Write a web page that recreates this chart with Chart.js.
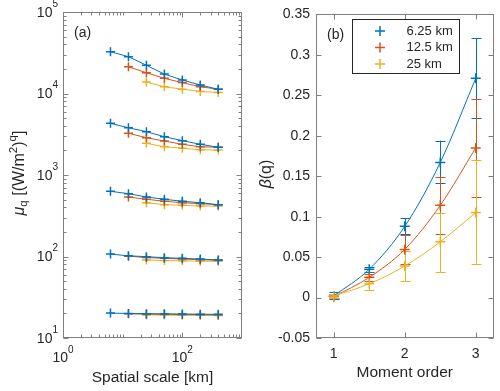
<!DOCTYPE html>
<html>
<head>
<meta charset="utf-8">
<title>Moments and scaling exponents</title>
<script src="https://cdn.jsdelivr.net/npm/chart.js@4.4.1/dist/chart.umd.min.js"></script>
<style>
  html, body { margin: 0; padding: 0; background: #fff; }
  #wrap { position: relative; width: 500px; height: 391px; }
  #wrap canvas { position: absolute; top: 0; }
</style>
</head>
<body>
<div id="wrap">
  <canvas id="chartA" width="250" height="391" style="left:0"></canvas>
  <canvas id="chartB" width="250" height="391" style="left:250px"></canvas>
</div>
<script>
// Data
// =====================================================

// Spatial scales [km] (x of panel a)
const scales = [6.25, 12.5, 25, 50, 100, 200, 400];

const seriesLabels = ['6.25 km', '12.5 km', '25 km'];
const seriesColors = ['#0072BD', '#D95319', '#EDB120'];

// mu_q, one row per moment order (q = 1, 1.5, 2, 2.5, 3)
const mu625 = [
  [20.2, 20.0, 19.9, 19.8, 19.7, 19.6, 19.5],
  [107, 102, 99.5, 96.7, 95, 93, 90.6],
  [631, 590, 537, 504, 476, 457, 432],
  [4300, 3800, 3400, 2950, 2640, 2380, 2190],
  [32600, 28300, 22200, 17300, 14650, 12700, 11270]
];
// starts at 12.5 km
const mu125 = [
  [19.8, 19.6, 19.5, 19.4, 19.3, 19.2],
  [101, 97, 95, 93, 91.5, 90],
  [537, 504, 476, 457, 445, 432],
  [3250, 2870, 2610, 2380, 2220, 2190],
  [21300, 18000, 15350, 13600, 12100, 11270]
];
// starts at 25 km
const mu25 = [
  [19.2, 19.1, 19.0, 19.0, 18.9],
  [90.6, 89, 88.5, 87.5, 87.5],
  [457, 432, 424, 416, 416],
  [2450, 2220, 2130, 2040, 2020],
  [13800, 12100, 11300, 10600, 10300]
];

// Panel b: scaling exponent beta(q) with error range
const orders = [1, 1.5, 2, 2.5, 3];
const beta625   = [0.002, 0.035, 0.088, 0.167, 0.271];
const beta625Lo = [-0.002, 0.032, 0.078, 0.141, 0.222];
const beta625Hi = [0.007, 0.038, 0.098, 0.194, 0.321];
const beta125   = [0.001, 0.025, 0.0595, 0.114, 0.185];
const beta125Lo = [-0.001, 0.021, 0.042, 0.078, 0.124];
const beta125Hi = [0.004, 0.029, 0.077, 0.149, 0.245];
const beta25    = [0.002, 0.017, 0.039, 0.069, 0.105];
const beta25Lo  = [-0.001, 0.0095, 0.020, 0.031, 0.042];
const beta25Hi  = [0.005, 0.025, 0.058, 0.105, 0.170];

// Tick values
const scaleTicks = [1, 100];
const muTicks = [10, 100, 1000, 10000, 100000];
const orderTicks = [1, 2, 3];
const betaTicks = [-0.05, 0, 0.05, 0.1, 0.15, 0.2, 0.25, 0.3, 0.35];

// Styling
// =====================================================
const FONT = '"Liberation Sans", Arial, Helvetica, sans-serif';
const textColor = '#262626';
const frameColor = '#808080';

function font(size, italic) {
  return (italic ? 'italic ' : '') + size + 'px ' + FONT;
}

// minor tick values 2..9 x 10^k inside (min, max)
function logMinors(min, max) {
  const out = [];
  for (let k = Math.floor(Math.log10(min)); k <= Math.ceil(Math.log10(max)); k++) {
    for (let m = 2; m <= 9; m++) {
      const v = m * Math.pow(10, k);
      if (v > min && v < max) out.push(v);
    }
  }
  return out;
}

// draw text made of pieces (sub/superscripts), centred on (cx, cy)
function drawRich(ctx, pieces, cx, cy, rotate) {
  ctx.save();
  ctx.translate(cx, cy);
  if (rotate) ctx.rotate(-Math.PI / 2);
  let total = 0;
  pieces.forEach(p => {
    ctx.font = font(p.size, p.italic);
    p.w = ctx.measureText(p.t).width;
    total += p.w;
  });
  let x = -total / 2;
  ctx.textBaseline = 'middle';
  ctx.textAlign = 'left';
  ctx.fillStyle = textColor;
  pieces.forEach(p => {
    ctx.font = font(p.size, p.italic);
    ctx.fillText(p.t, x, p.dy || 0);
    x += p.w;
  });
  ctx.restore();
}

// Box around the plot with inward ticks on all four sides
const framePlugin = {
  id: 'frame',
  afterDraw(chart, args, opts) {
    const { ctx, chartArea: a } = chart;
    const xs = chart.scales.x, ys = chart.scales.y;
    const L = Math.round(a.left) + 0.5, R = Math.round(a.right) - 0.5;
    const T = Math.round(a.top) + 0.5, B = Math.round(a.bottom) - 0.5;
    ctx.save();
    ctx.strokeStyle = frameColor;
    ctx.lineWidth = 1;
    ctx.strokeRect(L, T, R - L, B - T);

    ctx.beginPath();
    const xTicks = (vals, len) => vals.forEach(v => {
      const px = Math.round(xs.getPixelForValue(v)) + 0.5;
      ctx.moveTo(px, B); ctx.lineTo(px, B - len);
      ctx.moveTo(px, T); ctx.lineTo(px, T + len);
    });
    const yTicks = (vals, len) => vals.forEach(v => {
      const py = Math.round(ys.getPixelForValue(v)) + 0.5;
      ctx.moveTo(L, py); ctx.lineTo(L + len, py);
      ctx.moveTo(R, py); ctx.lineTo(R - len, py);
    });
    xTicks(opts.xMajor || [], 5);
    xTicks(opts.xMinor || [], 3);
    yTicks(opts.yMajor || [], 5);
    yTicks(opts.yMinor || [], 3);
    ctx.stroke();
    ctx.restore();
  }
};

// Panel a: tick labels as powers of ten, titles
const labelsA = {
  id: 'labelsA',
  afterDraw(chart) {
    const { ctx, chartArea: a } = chart;
    const xs = chart.scales.x, ys = chart.scales.y;
    ctx.save();
    ctx.fillStyle = textColor;
    ctx.textBaseline = 'middle';

    scaleTicks.forEach(v => {
      const px = xs.getPixelForValue(v);
      const exp = String(Math.round(Math.log10(v)));
      ctx.font = font(14); const w10 = ctx.measureText('10').width;
      ctx.font = font(10); const we = ctx.measureText(exp).width;
      const x0 = px - (w10 + we) / 2;
      ctx.textAlign = 'left';
      ctx.font = font(14); ctx.fillText('10', x0, a.bottom + 20);
      ctx.font = font(10); ctx.fillText(exp, x0 + w10, a.bottom + 12);
    });

    muTicks.forEach(v => {
      const py = ys.getPixelForValue(v);
      const exp = String(Math.round(Math.log10(v)));
      ctx.font = font(10); const we = ctx.measureText(exp).width;
      ctx.textAlign = 'right';
      ctx.fillText(exp, a.left - 5, py - 8);
      ctx.font = font(14);
      ctx.fillText('10', a.left - 5 - we, py + 1);
    });

    ctx.textAlign = 'left';
    ctx.font = font(14);
    ctx.fillText('(a)', a.left + 11, a.top + 21);
    ctx.restore();

    drawRich(ctx, [{ t: 'Spatial scale [km]', size: 15.5 }],
      (a.left + a.right) / 2, 378, false);
    drawRich(ctx, [
      { t: 'μ', size: 16, italic: true },
      { t: 'q', size: 11.5, dy: 4 },
      { t: ' [(W/m', size: 16 },
      { t: '2', size: 11.5, dy: -6 },
      { t: ')', size: 16 },
      { t: 'q', size: 11.5, dy: -7 },
      { t: ']', size: 16 }
    ], 20, 173, true);
  }
};

// Panel b: error bars
const errorBars = {
  id: 'errorBars',
  beforeDatasetsDraw(chart) {
    const { ctx } = chart;
    const xs = chart.scales.x, ys = chart.scales.y;
    const ranges = [[beta625Lo, beta625Hi], [beta125Lo, beta125Hi], [beta25Lo, beta25Hi]];
    ctx.save();
    ctx.lineWidth = 1;
    ranges.forEach((r, s) => {
      ctx.strokeStyle = seriesColors[s];
      ctx.beginPath();
      orders.forEach((q, i) => {
        const px = Math.round(xs.getPixelForValue(q)) + 0.5;
        const lo = ys.getPixelForValue(r[0][i]);
        const hi = ys.getPixelForValue(r[1][i]);
        ctx.moveTo(px, lo); ctx.lineTo(px, hi);
        ctx.moveTo(px - 5, Math.round(lo) + 0.5); ctx.lineTo(px + 5, Math.round(lo) + 0.5);
        ctx.moveTo(px - 5, Math.round(hi) + 0.5); ctx.lineTo(px + 5, Math.round(hi) + 0.5);
      });
      ctx.stroke();
    });
    ctx.restore();
  }
};

// Panel b: legend, titles
const labelsB = {
  id: 'labelsB',
  afterDraw(chart) {
    const { ctx, chartArea: a } = chart;
    ctx.save();
    const bw = 107, bh = 54;
    const bx = Math.round(a.left + 36) + 0.5, by = Math.round(a.top + 5) + 0.5;
    ctx.fillStyle = '#fff';
    ctx.fillRect(bx, by, bw, bh);
    ctx.strokeStyle = '#262626';
    ctx.lineWidth = 1;
    ctx.strokeRect(bx, by, bw, bh);

    ctx.font = font(13);
    ctx.textBaseline = 'middle';
    ctx.textAlign = 'left';
    seriesLabels.forEach((label, i) => {
      const cy = by + 11.5 + i * 16.5;
      const cx = bx + 27.5;
      ctx.strokeStyle = seriesColors[i];
      ctx.lineWidth = 1.5;
      ctx.beginPath();
      ctx.moveTo(cx - 5, cy); ctx.lineTo(cx + 5, cy);
      ctx.moveTo(cx, cy - 5); ctx.lineTo(cx, cy + 5);
      ctx.stroke();
      ctx.fillStyle = textColor;
      ctx.fillText(label, bx + 54, cy);
    });

    ctx.font = font(14);
    ctx.fillText('(b)', a.left + 11, a.top + 21);
    ctx.restore();

    drawRich(ctx, [{ t: 'Moment order', size: 15.5 }], (a.left + a.right) / 2, 373, false);
    drawRich(ctx, [
      { t: 'β', size: 16, italic: true },
      { t: '(q)', size: 16 }
    ], 17, 174, true);
  }
};

// Charts
// =====================================================
const hiddenGrid = { display: false, drawTicks: false };
const hiddenBorder = { display: false };

// Panel a
const muSeries = [mu625, mu125, mu25];
const datasetsA = [];
muSeries.forEach((rows, s) => {
  const offset = scales.length - rows[0].length;
  rows.forEach(row => {
    datasetsA.push({
      label: seriesLabels[s],
      data: row.map((v, i) => ({ x: scales[i + offset], y: v })),
      borderColor: seriesColors[s],
      backgroundColor: seriesColors[s],
      borderWidth: 1,
      tension: 0,
      pointStyle: 'cross',
      pointRadius: 4.5,
      pointBorderWidth: 1.5,
      pointBorderColor: seriesColors[s],
      order: s
    });
  });
});

new Chart(document.getElementById('chartA'), {
  type: 'line',
  data: { datasets: datasetsA },
  options: {
    responsive: false,
    animation: false,
    layout: { padding: { top: 12, right: 8, left: 0, bottom: 0 } },
    plugins: {
      legend: { display: false },
      tooltip: { enabled: false },
      frame: {
        xMajor: scaleTicks,
        xMinor: logMinors(1, 1000).concat([10]),
        yMajor: muTicks,
        yMinor: logMinors(10, 100000)
      }
    },
    scales: {
      x: {
        type: 'logarithmic', min: 1, max: 1000,
        ticks: { display: false },
        grid: hiddenGrid, border: hiddenBorder,
        afterFit: s => { s.height = 53; }
      },
      y: {
        type: 'logarithmic', min: 10, max: 100000,
        ticks: { display: false },
        grid: hiddenGrid, border: hiddenBorder,
        afterFit: s => { s.width = 63; }
      }
    }
  },
  plugins: [framePlugin, labelsA]
});

// Panel b
const betaSeries = [beta625, beta125, beta25];
const datasetsB = betaSeries.map((vals, s) => ({
  label: seriesLabels[s],
  data: vals.map((v, i) => ({ x: orders[i], y: v })),
  borderColor: seriesColors[s],
  backgroundColor: seriesColors[s],
  borderWidth: 1,
  cubicInterpolationMode: 'monotone',
  pointStyle: 'cross',
  pointRadius: 5,
  pointBorderWidth: 1.5,
  pointBorderColor: seriesColors[s],
  order: 2 - s
}));

new Chart(document.getElementById('chartB'), {
  type: 'line',
  data: { datasets: datasetsB },
  options: {
    responsive: false,
    animation: false,
    layout: { padding: { top: 12, right: 5, left: 0, bottom: 0 } },
    plugins: {
      legend: { display: false },
      tooltip: { enabled: false },
      frame: { xMajor: orderTicks, yMajor: betaTicks }
    },
    scales: {
      x: {
        type: 'linear', min: 0.75, max: 3.25,
        afterBuildTicks: s => { s.ticks = orderTicks.map(v => ({ value: v })); },
        ticks: {
          color: textColor, font: { family: FONT, size: 14 }, padding: 8,
          callback: v => String(v)
        },
        grid: hiddenGrid, border: hiddenBorder,
        afterFit: s => { s.height = 53; }
      },
      y: {
        type: 'linear', min: -0.05, max: 0.35,
        afterBuildTicks: s => { s.ticks = betaTicks.map(v => ({ value: v })); },
        ticks: {
          color: textColor, font: { family: FONT, size: 14 }, padding: 6,
          callback: v => String(+v.toFixed(2))
        },
        grid: hiddenGrid, border: hiddenBorder,
        afterFit: s => { s.width = 66; }
      }
    }
  },
  plugins: [errorBars, framePlugin, labelsB]
});
</script>
</body>
</html>
